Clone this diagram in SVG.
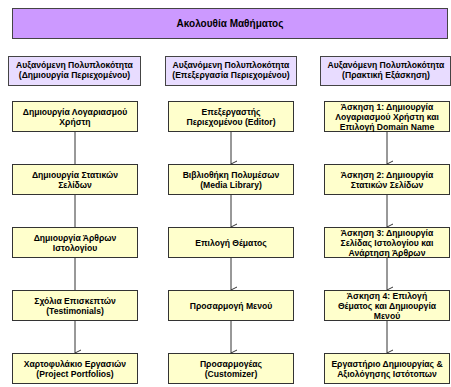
<svg xmlns="http://www.w3.org/2000/svg" width="451" height="387" viewBox="0 0 451 387">
<style>
text{font-family:"Liberation Sans",Arial,sans-serif;font-weight:bold;text-anchor:middle;fill:#000}
.t{font-size:10px}
.h,.b{font-size:8.6px}
.title{fill:#cc99ff;stroke:#444;stroke-width:1}
.head{fill:#e8dcff;stroke:#444;stroke-width:1}
.box{fill:#ffffcc;stroke:#333;stroke-width:1}
.c{stroke:#333;stroke-width:1;fill:none}
</style>
<defs>
<marker id="v" markerWidth="8" markerHeight="8" refX="4" refY="7" orient="auto" markerUnits="userSpaceOnUse" viewBox="0 0 8 8">
<path d="M1,1 L4,7 L7,1" fill="none" stroke="#333" stroke-width="1"/>
</marker>
</defs>
<g id="title"><rect class="title" x="12.5" y="8.5" width="435" height="30"/><text class="t" x="230" y="27">Ακολουθία Μαθήματος</text></g>
<g id="h1"><rect class="head" x="8.5" y="56.5" width="132" height="29"/><text class="h" x="74.5" y="68">Αυξανόμενη Πολυπλοκότητα</text><text class="h" x="74.5" y="78">(Δημιουργία Περιεχομένου)</text></g>
<g id="h2"><rect class="head" x="165.5" y="56.5" width="131" height="29"/><text class="h" x="231" y="68">Αυξανόμενη Πολυπλοκότητα</text><text class="h" x="231" y="78">(Επεξεργασία Περιεχομένου)</text></g>
<g id="h3"><rect class="head" x="320.5" y="56.5" width="130" height="29"/><text class="h" x="386" y="68">Αυξανόμενη Πολυπλοκότητα</text><text class="h" x="386" y="78">(Πρακτική Εξάσκηση)</text></g>
<g id="connectors">
<path class="c" d="M75,132V164M75,195V227M75,258V290M75,321V353" marker-end="url(#v)"/>
<path class="c" d="M231,132V164" marker-end="url(#v)"/>
<path class="c" d="M231,195V227" marker-end="url(#v)"/>
<path class="c" d="M231,258V290" marker-end="url(#v)"/>
<path class="c" d="M231,321V353" marker-end="url(#v)"/>
<path class="c" d="M387,132V164" marker-end="url(#v)"/>
<path class="c" d="M387,195V227" marker-end="url(#v)"/>
<path class="c" d="M387,258V290" marker-end="url(#v)"/>
<path class="c" d="M387,321V353" marker-end="url(#v)"/>
</g>
<g id="a1"><rect class="box" x="12.5" y="101.5" width="125" height="30"/><text class="b" x="75" y="114.5">Δημιουργία Λογαριασμού</text><text class="b" x="75" y="124.5">Χρήστη</text></g>
<g id="a2"><rect class="box" x="12.5" y="164.5" width="125" height="30"/><text class="b" x="75" y="177.5">Δημιουργία Στατικών</text><text class="b" x="75" y="187.5">Σελίδων</text></g>
<g id="a3"><rect class="box" x="12.5" y="227.5" width="125" height="30"/><text class="b" x="75" y="240.5">Δημιουργία Άρθρων</text><text class="b" x="75" y="250.5">Ιστολογίου</text></g>
<g id="a4"><rect class="box" x="12.5" y="290.5" width="125" height="30"/><text class="b" x="75" y="303.5">Σχόλια Επισκεπτών</text><text class="b" x="75" y="313.5">(Testimonials)</text></g>
<g id="a5"><rect class="box" x="12.5" y="353.5" width="125" height="30"/><text class="b" x="75" y="366.5">Χαρτοφυλάκιο Εργασιών</text><text class="b" x="75" y="376.5">(Project Portfolios)</text></g>
<g id="b1"><rect class="box" x="168.5" y="101.5" width="125" height="30"/><text class="b" x="231" y="114.5">Επεξεργαστής</text><text class="b" x="231" y="124.5">Περιεχομένου (Editor)</text></g>
<g id="b2"><rect class="box" x="168.5" y="164.5" width="125" height="30"/><text class="b" x="231" y="177.5">Βιβλιοθήκη Πολυμέσων</text><text class="b" x="231" y="187.5">(Media Library)</text></g>
<g id="b3"><rect class="box" x="168.5" y="227.5" width="125" height="30"/><text class="b" x="231" y="245.5">Επιλογή Θέματος</text></g>
<g id="b4"><rect class="box" x="168.5" y="290.5" width="125" height="30"/><text class="b" x="231" y="308.5">Προσαρμογή Μενού</text></g>
<g id="b5"><rect class="box" x="168.5" y="353.5" width="125" height="30"/><text class="b" x="231" y="366.5">Προσαρμογέας</text><text class="b" x="231" y="376.5">(Customizer)</text></g>
<g id="c1"><rect class="box" x="324.5" y="101.5" width="125" height="30"/><text class="b" x="387" y="109.5">Άσκηση 1: Δημιουργία</text><text class="b" x="387" y="119.5">Λογαριασμού Χρήστη και</text><text class="b" x="387" y="129.5">Επιλογή Domain Name</text></g>
<g id="c2"><rect class="box" x="324.5" y="164.5" width="125" height="30"/><text class="b" x="387" y="177.5">Άσκηση 2: Δημιουργία</text><text class="b" x="387" y="187.5">Στατικών Σελίδων</text></g>
<g id="c3"><rect class="box" x="324.5" y="227.5" width="125" height="30"/><text class="b" x="387" y="235.5">Άσκηση 3: Δημιουργία</text><text class="b" x="387" y="245.5">Σελίδας Ιστολογίου και</text><text class="b" x="387" y="255.5">Ανάρτηση Άρθρων</text></g>
<g id="c4"><rect class="box" x="324.5" y="290.5" width="125" height="30"/><text class="b" x="387" y="298.5">Άσκηση 4: Επιλογή</text><text class="b" x="387" y="308.5">Θέματος και Δημιουργία</text><text class="b" x="387" y="318.5">Μενού</text></g>
<g id="c5"><rect class="box" x="324.5" y="353.5" width="125" height="30"/><text class="b" x="387" y="366.5">Εργαστήριο Δημιουργίας &amp;</text><text class="b" x="387" y="376.5">Αξιολόγησης Ιστότοπων</text></g>
</svg>
